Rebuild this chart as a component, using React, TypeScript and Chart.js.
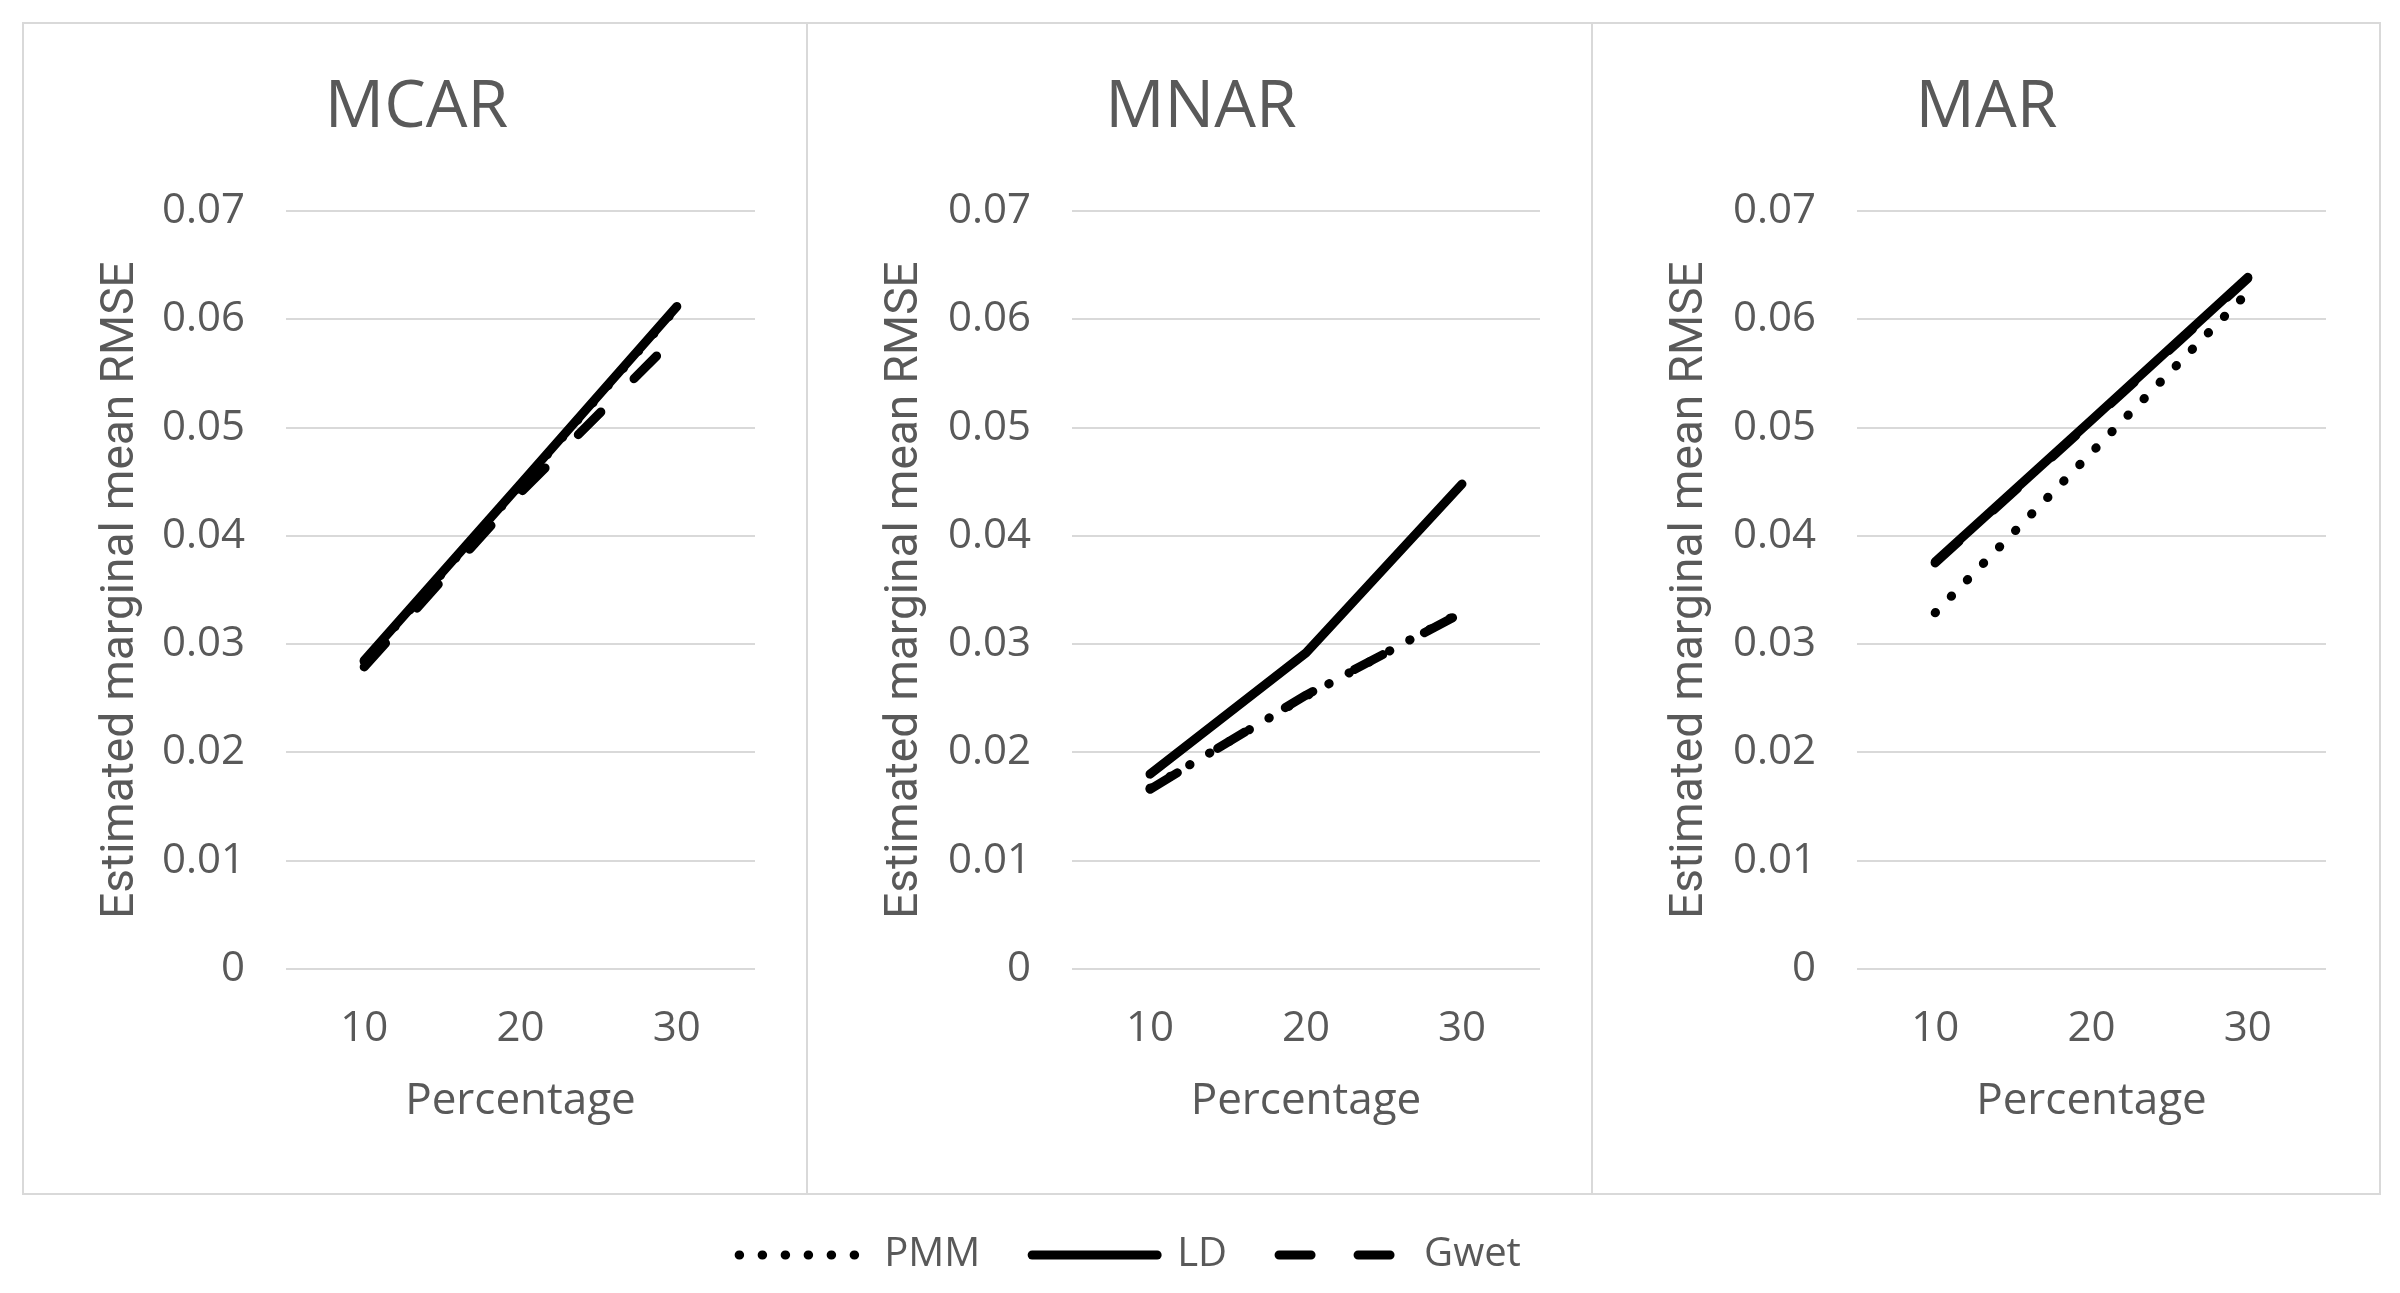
import React, { useEffect, useRef } from 'react';
import { Chart, registerables } from 'chart.js';

Chart.register(...registerables);

// ---- data ----
const percentages = ['10', '20', '30'];
const panelTitles = ['MCAR', 'MNAR', 'MAR'];
const seriesNames = ['PMM', 'LD', 'Gwet'];

const mcarPMM = [0.0284, 0.0447, 0.0611];
const mcarLD = [0.0285, 0.0448, 0.0612];
const mcarGwet = [0.0279, 0.044, 0.0585];

const mnarPMM = [0.0167, 0.0252, 0.033];
const mnarLD = [0.018, 0.0292, 0.0448];
const mnarGwet = [0.0166, 0.0253, 0.0329];

const marPMM = [0.0329, 0.0477, 0.0625];
const marLD = [0.0376, 0.0507, 0.0639];
const marGwet = [0.0375, 0.0506, 0.0638];

const yMin = 0;
const yMax = 0.07;
const yStep = 0.01;
const xAxisTitle = 'Percentage';
const yAxisTitle = 'Estimated marginal mean RMSE';

const panelSeries = [
  [mcarPMM, mcarLD, mcarGwet],
  [mnarPMM, mnarLD, mnarGwet],
  [marPMM, marLD, marGwet],
];

// ---- styling ----
const GRAY = '#595959';
const GRID = '#d9d9d9';
const FONT = "'Open Sans', 'DejaVu Sans', sans-serif";
const NARROW = "'Liberation Sans Narrow', 'Roboto', sans-serif";
const LINE_W = 9;

const seriesDash = (name: string): number[] => {
  if (name === 'PMM') return [0.5, 22.5];
  if (name === 'Gwet') return [32, 47];
  return [];
};

const makeDatasets = (values: number[][] | null) =>
  seriesNames.map((name, i) => ({
    label: name,
    data: values ? values[i] : [],
    borderColor: '#000000',
    backgroundColor: '#000000',
    borderWidth: LINE_W,
    borderCapStyle: 'round' as const,
    borderJoinStyle: 'round' as const,
    borderDash: seriesDash(name),
    pointRadius: 0,
    pointHoverRadius: 0,
    tension: 0,
    fill: false,
  }));

const panels = [
  { left: 23, width: 784, yWidth: 208, rightPad: 52 },
  { left: 807, width: 785, yWidth: 210, rightPad: 52 },
  { left: 1592, width: 788, yWidth: 210, rightPad: 54 },
];
const PANEL_TOP = 23;
const PANEL_H = 1171;

function Panel({ idx }: { idx: number }) {
  const ref = useRef<HTMLCanvasElement>(null);
  const p = panels[idx];
  useEffect(() => {
    if (!ref.current) return;
    const chart = new Chart(ref.current, {
      type: 'line',
      data: { labels: percentages, datasets: makeDatasets(panelSeries[idx]) as any },
      options: {
        animation: false,
        responsive: false,
        maintainAspectRatio: false,
        devicePixelRatio: 1,
        layout: { padding: { left: 55, right: p.rightPad, top: 0, bottom: 66 } },
        plugins: {
          legend: { display: false },
          tooltip: { enabled: false },
          title: {
            display: true,
            text: panelTitles[idx],
            color: GRAY,
            font: { family: FONT, size: 66, weight: 'normal' },
            padding: { top: 46, bottom: 63 },
          },
        },
        scales: {
          x: {
            offset: true,
            grid: { display: false, drawTicks: false },
            border: { display: false },
            ticks: { color: GRAY, font: { family: FONT, size: 42 }, padding: 35 },
            title: {
              display: true,
              text: xAxisTitle,
              color: GRAY,
              font: { family: FONT, size: 44 },
              padding: { top: 0, bottom: 0 },
            },
            afterFit: (s: any) => {
              s.height = 159;
            },
          },
          y: {
            min: yMin,
            max: yMax,
            ticks: {
              stepSize: yStep,
              color: GRAY,
              font: { family: FONT, size: 42 },
              padding: 41,
              callback: (v: any) => String(Number(Number(v).toFixed(2))),
            },
            grid: { color: GRID, lineWidth: 2, drawTicks: false },
            border: { display: false },
            title: {
              display: true,
              text: yAxisTitle,
              color: GRAY,
              font: { family: NARROW, size: 46 },
              padding: { top: 16, bottom: 0 },
            },
            afterFit: (s: any) => {
              s.width = p.yWidth;
            },
          },
        },
      },
    });
    return () => chart.destroy();
  }, [idx]);
  return (
    <canvas
      ref={ref}
      width={p.width}
      height={PANEL_H}
      style={{ position: 'absolute', left: p.left, top: PANEL_TOP, width: p.width, height: PANEL_H }}
    />
  );
}

function Legend() {
  const ref = useRef<HTMLCanvasElement>(null);
  useEffect(() => {
    if (!ref.current) return;
    const chart = new Chart(ref.current, {
      type: 'line',
      data: { labels: [], datasets: makeDatasets(null) as any },
      options: {
        animation: false,
        responsive: false,
        maintainAspectRatio: false,
        devicePixelRatio: 1,
        scales: { x: { display: false }, y: { display: false } },
        plugins: {
          tooltip: { enabled: false },
          legend: {
            display: true,
            position: 'top',
            labels: {
              usePointStyle: true,
              pointStyle: 'line',
              pointStyleWidth: 125,
              color: GRAY,
              font: { family: FONT, size: 40 },
              padding: 52,
              generateLabels: (c: any) =>
                c.data.datasets.map((ds: any, i: number) => ({
                  text: ds.label,
                  fillStyle: ds.backgroundColor,
                  strokeStyle: ds.borderColor,
                  lineWidth: ds.borderWidth,
                  lineDash: ds.borderDash,
                  lineCap: ds.borderCapStyle,
                  lineJoin: 'round',
                  pointStyle: 'line',
                  fontColor: GRAY,
                  hidden: false,
                  datasetIndex: i,
                })),
            },
          },
        },
      },
    });
    return () => chart.destroy();
  }, []);
  return (
    <canvas
      ref={ref}
      width={1060}
      height={400}
      style={{ position: 'absolute', left: 600, top: 1183, width: 1060, height: 400 }}
    />
  );
}

export default function App() {
  return (
    <div style={{ position: 'fixed', left: 0, top: 0, width: 2400, height: 1293, background: '#fff', overflow: 'hidden' }}>
      <div
        style={{
          position: 'absolute',
          left: 22,
          top: 22,
          width: 2359,
          height: 1173,
          border: `2px solid ${GRID}`,
          boxSizing: 'border-box',
        }}
      />
      <div style={{ position: 'absolute', left: 806, top: 22, width: 2, height: 1173, background: GRID }} />
      <div style={{ position: 'absolute', left: 1591, top: 22, width: 2, height: 1173, background: GRID }} />
      <Panel idx={0} />
      <Panel idx={1} />
      <Panel idx={2} />
      <Legend />
    </div>
  );
}
